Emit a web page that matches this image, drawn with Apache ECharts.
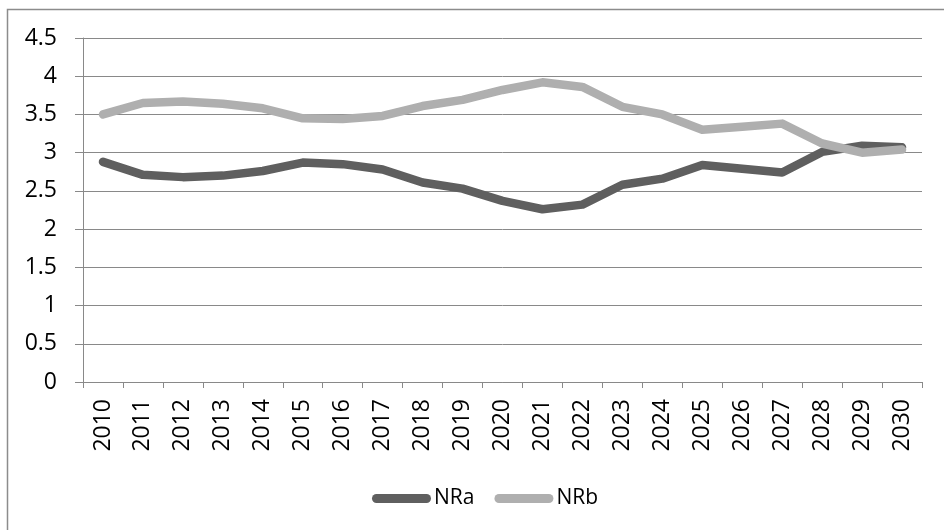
<!DOCTYPE html>
<html>
<head>
<meta charset="utf-8">
<script src="https://cdn.jsdelivr.net/npm/echarts@6/dist/echarts.min.js"></script>
<style>
  html, body { margin: 0; padding: 0; background: #fff; }
  #main { width: 944px; height: 530px; }
</style>
</head>
<body>
<div id="main"></div>
<script>
const years = ["2010", "2011", "2012", "2013", "2014", "2015", "2016", "2017", "2018", "2019", "2020",
  "2021", "2022", "2023", "2024", "2025", "2026", "2027", "2028", "2029", "2030"];
const nra = [2.88, 2.71, 2.68, 2.70, 2.76, 2.87, 2.85, 2.78, 2.61, 2.53, 2.37,
  2.26, 2.32, 2.58, 2.66, 2.84, 2.79, 2.74, 3.01, 3.09, 3.07];
const nrb = [3.50, 3.65, 3.67, 3.64, 3.58, 3.45, 3.44, 3.48, 3.61, 3.69, 3.82,
  3.92, 3.86, 3.60, 3.50, 3.30, 3.34, 3.38, 3.12, 3.00, 3.04];

const font = "'Open Sans', 'Noto Sans', sans-serif";
const gridGray = "#898989";
// capsule shaped legend key, like a thick round-capped line
const capsule = "path://M4.5,0 L54.5,0 A4.5,4.5 0 0 1 54.5,9 L4.5,9 A4.5,4.5 0 0 1 4.5,0 Z";

const myChart = echarts.init(document.getElementById("main"));
const option = {
  animation: false,
  backgroundColor: "#fff",
  textStyle: { fontFamily: font, color: "#000" },
  graphic: [
    {
      // outer chart border (cut off at right and bottom)
      type: "rect",
      shape: { x: 7.5, y: 9.5, width: 1000, height: 1000 },
      style: { fill: "none", stroke: "#8c8c8c", lineWidth: 1.5 },
      silent: true,
    },
  ],
  grid: { left: 83, right: 22, top: 38, bottom: 148 },
  legend: {
    data: ["NRa", "NRb"],
    icon: capsule,
    left: 367,
    top: 483,
    itemWidth: 59,
    itemHeight: 9,
    itemGap: 20,
    textStyle: { fontFamily: font, fontSize: 21, color: "#000", padding: [0, 0, 0, -2] },
  },
  xAxis: {
    type: "category",
    data: years,
    boundaryGap: true,
    axisLine: { lineStyle: { color: gridGray, width: 1 } },
    axisTick: { show: true, length: 6, lineStyle: { color: gridGray } },
    axisLabel: { rotate: 90, margin: 17, fontSize: 23, fontFamily: font, color: "#000" },
  },
  yAxis: {
    type: "value",
    min: 0,
    max: 4.5,
    interval: 0.5,
    axisLine: { show: true, lineStyle: { color: gridGray, width: 1 } },
    axisTick: { show: true, length: 8, lineStyle: { color: gridGray } },
    axisLabel: { margin: 26, fontSize: 23, fontFamily: font, color: "#000" },
    splitLine: { lineStyle: { color: gridGray, width: 1 } },
  },
  series: [
    {
      name: "NRa",
      type: "line",
      data: nra,
      symbol: "none",
      color: "#5f5f5f",
      lineStyle: { width: 8.5, color: "#5f5f5f", cap: "round", join: "round" },
    },
    {
      name: "NRb",
      type: "line",
      data: nrb,
      symbol: "none",
      color: "#afafaf",
      lineStyle: { width: 8.5, color: "#afafaf", cap: "round", join: "round" },
    },
  ],
};
myChart.setOption(option);
</script>
</body>
</html>
